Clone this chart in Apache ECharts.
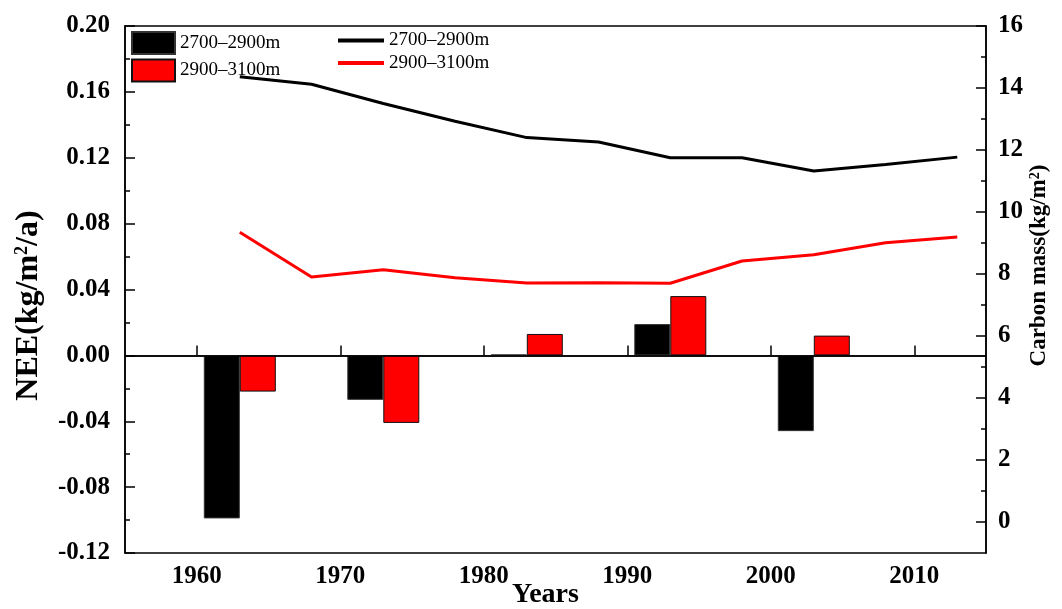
<!DOCTYPE html>
<html>
<head>
<meta charset="utf-8">
<script src="https://cdn.jsdelivr.net/npm/echarts@6/dist/echarts.min.js"></script>
<style>
  html, body { margin: 0; padding: 0; background: #fff; overflow: hidden; }
  #chart { width: 1062px; height: 609px; }
</style>
</head>
<body>
<div id="chart"></div>
<script>
// NEE by elevation band, bars (left axis)
const barYears = [1963, 1973, 1983, 1993, 2003];
const nee2700 = [-0.099, -0.027, 0.0005, 0.019, -0.046];
const nee2900 = [-0.022, -0.041, 0.013, 0.036, 0.012];

// Carbon mass by elevation band, lines (right axis)
const lineYears = [1963, 1968, 1973, 1978, 1983, 1988, 1993, 1998, 2003, 2008, 2013];
const carbon2700 = [14.36, 14.12, 13.50, 12.93, 12.40, 12.26, 11.75, 11.75, 11.32, 11.53, 11.77];
const carbon2900 = [9.35, 7.90, 8.14, 7.88, 7.71, 7.72, 7.70, 8.42, 8.62, 9.01, 9.19];

// Axis ticks
const yearTicks = [1960, 1970, 1980, 1990, 2000, 2010];
const carbonMajor = [0, 2, 4, 6, 8, 10, 12, 14, 16];
const carbonMinor = [1, 3, 5, 7, 9, 11, 13, 15];

const serif = 'Liberation Serif';
const pairs = (xs, ys) => xs.map((x, i) => [x, ys[i]]);
const axisLine = { show: true, lineStyle: { color: '#000', width: 1.5 } };
const tickLabel = { fontFamily: serif, fontWeight: 'bold', fontSize: 25, color: '#000' };
const sup = size => ({ sup: { fontFamily: serif, fontWeight: 'bold', fontSize: size, verticalAlign: 'top', color: '#000' } });

const chart = echarts.init(document.getElementById('chart'), null, { renderer: 'canvas' });

chart.setOption({
  backgroundColor: '#fff',
  animation: false,
  grid: {
    left: 125, right: 76, top: 26, bottom: 56,
    outerBoundsMode: 'none', containLabel: false,
    show: true, borderColor: '#000', borderWidth: 1.5, backgroundColor: 'transparent'
  },
  legend: [
    {
      data: ['2700–2900m bar', '2900–3100m bar'],
      formatter: n => n.replace(' bar', ''),
      orient: 'vertical', left: 126, top: 26, icon: 'rect',
      itemWidth: 43, itemHeight: 22, itemGap: 3.5,
      textStyle: { fontFamily: serif, fontSize: 19, color: '#000' }
    },
    {
      data: ['2700–2900m', '2900–3100m'],
      orient: 'vertical', left: 331, top: 26,
      itemWidth: 46, itemHeight: 22, itemGap: 3.5,
      itemStyle: { color: 'transparent', borderWidth: 0, opacity: 0 },
      lineStyle: { width: 4 },
      textStyle: { fontFamily: serif, fontSize: 19, color: '#000' }
    }
  ],
  xAxis: {
    type: 'value', min: 1955, max: 2015,
    name: 'Years', nameLocation: 'middle', nameGap: 28, nameMoveOverlap: false,
    nameTextStyle: { fontFamily: serif, fontWeight: 'bold', fontSize: 28, color: '#000', padding: [0, 20, 0, 0] },
    axisLine: axisLine,
    axisTick: { show: true, inside: true, length: 10, customValues: yearTicks, lineStyle: { color: '#000', width: 1.5 } },
    axisLabel: Object.assign({ margin: 11, customValues: yearTicks, formatter: v => String(v) }, tickLabel),
    splitLine: { show: false }
  },
  yAxis: [
    {
      type: 'value', position: 'left', min: -0.12, max: 0.20, interval: 0.04,
      name: 'NEE(kg/m{sup|2}/a)', nameLocation: 'middle', nameRotate: 90, nameGap: 80,
      nameTextStyle: { fontFamily: serif, fontWeight: 'bold', fontSize: 32, color: '#000', rich: sup(18), padding: [0, 32, 0, 0] },
      axisLine: axisLine,
      axisTick: { show: true, inside: true, length: 10, lineStyle: { color: '#000', width: 1.5 } },
      minorTick: { show: true, splitNumber: 2, length: 5, lineStyle: { color: '#000', width: 1.5 } },
      axisLabel: Object.assign({
        margin: 15,
        formatter: v => (Math.abs(v) < 1e-9 ? 0 : v).toFixed(2)
      }, tickLabel),
      splitLine: { show: false }
    },
    {
      type: 'value', position: 'right', min: -1, max: 16,
      name: 'Carbon mass(kg/m{sup|2})', nameLocation: 'middle', nameRotate: 90, nameGap: 42, nameMoveOverlap: false,
      nameTextStyle: { fontFamily: serif, fontWeight: 'bold', fontSize: 23, color: '#000', rich: sup(14), padding: [0, 0, 0, 48] },
      axisLine: axisLine,
      axisTick: { show: true, inside: true, length: 10, customValues: carbonMajor, lineStyle: { color: '#000', width: 1.5 } },
      axisLabel: Object.assign({ margin: 12, customValues: carbonMajor, formatter: v => String(v) }, tickLabel),
      splitLine: { show: false }
    },
    {
      type: 'value', position: 'right', min: -1, max: 16,
      axisLine: { show: false },
      axisTick: { show: true, inside: true, length: 5, customValues: carbonMinor, lineStyle: { color: '#000', width: 1.5 } },
      axisLabel: { show: false },
      splitLine: { show: false }
    }
  ],
  series: [
    {
      name: '2700–2900m bar', type: 'bar', yAxisIndex: 0,
      data: pairs(barYears, nee2700),
      barWidth: 36, barGap: '0%',
      itemStyle: { color: '#000', borderColor: '#333', borderWidth: 1 },
      markLine: {
        silent: true, symbol: 'none', label: { show: false },
        lineStyle: { color: '#000', width: 1.5, type: 'solid' },
        data: [{ yAxis: 0 }]
      }
    },
    {
      name: '2900–3100m bar', type: 'bar', yAxisIndex: 0,
      data: pairs(barYears, nee2900),
      barWidth: 36, barGap: '0%',
      itemStyle: { color: '#ff0000', borderColor: '#111', borderWidth: 1 }
    },
    {
      name: '2700–2900m', type: 'line', yAxisIndex: 1,
      data: pairs(lineYears, carbon2700),
      symbol: 'none', lineStyle: { color: '#000', width: 3 }, itemStyle: { color: '#000' }
    },
    {
      name: '2900–3100m', type: 'line', yAxisIndex: 1,
      data: pairs(lineYears, carbon2900),
      symbol: 'none', lineStyle: { color: '#ff0000', width: 3 }, itemStyle: { color: '#ff0000' }
    }
  ]
});
</script>
</body>
</html>
